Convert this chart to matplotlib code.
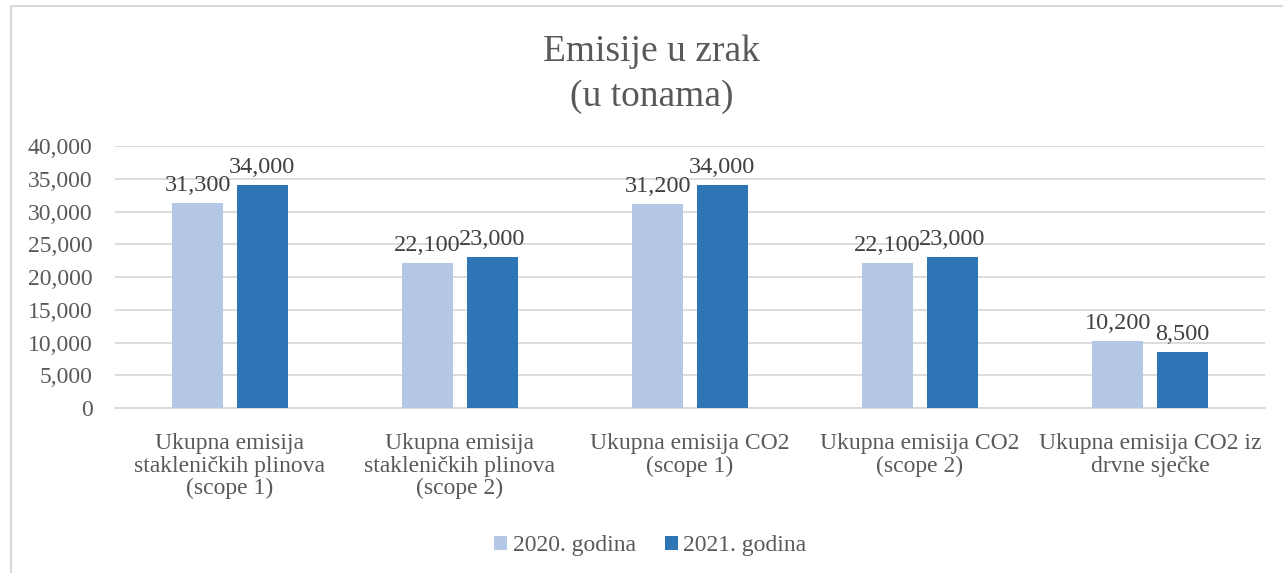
import matplotlib.pyplot as plt
import numpy as np
from matplotlib.patches import Rectangle

# podaci
kategorije = ['Ukupna emisija\nstakleničkih plinova\n(scope 1)',
              'Ukupna emisija\nstakleničkih plinova\n(scope 2)',
              'Ukupna emisija CO2\n(scope 1)',
              'Ukupna emisija CO2\n(scope 2)',
              'Ukupna emisija CO2 iz\ndrvne sječke']
god_2020 = [31300, 22100, 31200, 22100, 10200]
god_2021 = [34000, 23000, 34000, 23000, 8500]
serije = ['2020. godina', '2021. godina']

plt.rcParams['font.family'] = ['Liberation Serif', 'DejaVu Serif']
siva = '#595959'

fig = plt.figure(figsize=(12.83, 5.73), dpi=100)
ax = fig.add_axes([0.0896, 0.288, 0.8964, 0.457])

x = np.arange(len(kategorije))
w = 0.222
off = 0.141
b1 = ax.bar(x - off, god_2020, w, color='#b4c7e7', label=serije[0], zorder=3)
b2 = ax.bar(x + off, god_2021, w, color='#2e75b6', label=serije[1], zorder=3)

for bars in (b1, b2):
    for r in bars:
        ax.annotate(f'{int(r.get_height()):,}', (r.get_x() + r.get_width() / 2, r.get_height()),
                    xytext=(0, 5), textcoords='offset points', ha='center', va='bottom',
                    fontsize=17.5, color='#404040')

ax.set_xlim(-0.5, 4.5)
ax.set_ylim(0, 40000)
ax.set_yticks(range(0, 40001, 5000))
ax.set_yticklabels([f'{v:,}' for v in range(0, 40001, 5000)])
ax.yaxis.grid(True, color='#d9d9d9', linewidth=1.3, zorder=0)
ax.set_xticks(x)
ax.set_xticklabels(kategorije, linespacing=1.1)
ax.tick_params(axis='both', length=0, labelsize=17, colors=siva)
ax.tick_params(axis='y', pad=16)
ax.tick_params(axis='x', pad=18)
for s in ['top', 'right', 'left']:
    ax.spines[s].set_visible(False)
ax.spines['bottom'].set_color('#d9d9d9')
ax.spines['bottom'].set_linewidth(1.3)

fig.text(0.508, 0.91, 'Emisije u zrak', ha='center', va='center', fontsize=27, color=siva)
fig.text(0.508, 0.832, '(u tonama)', ha='center', va='center', fontsize=27, color=siva)

fig.legend(handles=[b1, b2], labels=serije, loc='center', bbox_to_anchor=(0.507, 0.048),
           ncol=2, frameon=False, fontsize=17, labelcolor=siva, handlelength=0.55,
           handleheight=0.55, handletextpad=0.25, columnspacing=1.2)

# okvir grafikona
fig.patches.append(Rectangle((11 / 1283, -0.1), 1.1, 1.1 - 6 / 573, transform=fig.transFigure,
                             fill=False, edgecolor='#d9d9d9', linewidth=1.5))

fig.savefig('out.png', dpi=100)
